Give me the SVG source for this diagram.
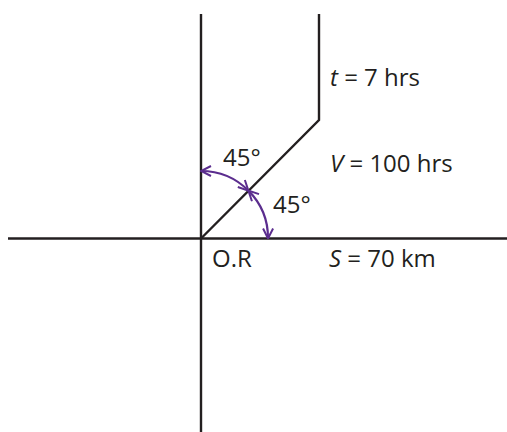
<svg xmlns="http://www.w3.org/2000/svg" width="507" height="432" viewBox="0 0 507 432">
<style>
.ax{stroke:#231f20;stroke-width:2.4;fill:none}
.arc{stroke:#5b2d8e;stroke-width:2.2;fill:none}
text{font-family:"Open Sans","Liberation Sans",sans-serif;font-size:24px;fill:#231f20}
.i{font-style:italic}
</style>
<defs>
<marker id="ah" viewBox="0 0 12 12" refX="11" refY="6" markerWidth="12" markerHeight="12" markerUnits="userSpaceOnUse" orient="auto-start-reverse">
<path d="M1,1 L11,6 L1,11" fill="none" stroke="#5b2d8e" stroke-width="2"/>
</marker>
</defs>
<g id="axes">
<line class="ax" x1="201" y1="14" x2="201" y2="432"/>
<line class="ax" x1="8" y1="238.5" x2="507" y2="238.5"/>
<polyline class="ax" points="201,238.5 319,120 319,14"/>
</g>
<g id="connectors">
<path class="arc" d="M201,171 A67,67 0 0 1 248.4,190.6" marker-start="url(#ah)" marker-end="url(#ah)"/>
<path class="arc" d="M248.4,190.6 A67,67 0 0 1 268,238.5" marker-start="url(#ah)" marker-end="url(#ah)"/>
</g>
<g id="labels">
<text x="330" y="86"><tspan class="i">t</tspan> = 7 hrs</text>
<text x="330" y="172"><tspan class="i">V</tspan> = 100 hrs</text>
<text x="329" y="267"><tspan class="i">S</tspan> = 70 km</text>
<text x="212" y="267">O.R</text>
<text x="223" y="166">45°</text>
<text x="273" y="213">45°</text>
</g>
</svg>
